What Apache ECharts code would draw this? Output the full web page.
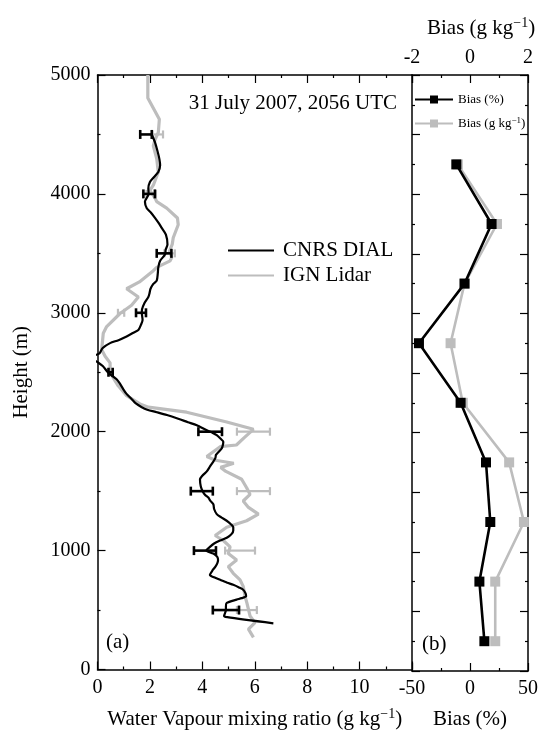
<!DOCTYPE html>
<html>
<head>
<meta charset="utf-8">
<script src="https://cdn.jsdelivr.net/npm/echarts@6/dist/echarts.min.js"></script>
<style>
  html, body { margin: 0; padding: 0; background: #fff; }
  #chart { width: 541px; height: 735px; }
</style>
</head>
<body>
<div id="chart"></div>
<script>
// CNRS DIAL water vapour mixing ratio profile (g/kg) vs height (m)
const dialHeights = [4500, 4430, 4350, 4295, 4240, 4185, 4140, 4100, 4045, 4000, 3935, 3880, 3840, 3797, 3750,
  3714, 3658, 3575, 3530, 3492, 3437, 3382, 3330, 3271, 3243, 3200, 3160, 3133, 3077, 3030, 3000, 2940, 2900,
  2856, 2830, 2801, 2770, 2745, 2704, 2657, 2640, 2600, 2585, 2552, 2496, 2441, 2413, 2358, 2320, 2275, 2240,
  2206, 2185, 2164, 2140, 2109, 2080, 2054, 2012, 1990, 1971, 1940, 1915, 1885, 1860, 1830, 1805, 1780, 1749,
  1710, 1666, 1630, 1598, 1542, 1500, 1470, 1446, 1420, 1390, 1350, 1307, 1280, 1251, 1220, 1197, 1170, 1141,
  1110, 1085, 1060, 1031, 1000, 975, 948, 920, 892, 865, 837, 795, 775, 754, 730, 712, 690, 671, 640, 616, 600,
  588, 560, 530, 500, 477, 450, 440, 388];
const dialValues = [2.07, 2.2, 2.3, 2.36, 2.39, 2.32, 2.15, 2.0, 1.94, 1.95, 1.81, 1.88, 2.05, 2.2, 2.35,
  2.45, 2.61, 2.67, 2.6, 2.58, 2.39, 2.32, 2.3, 2.26, 2.13, 2.02, 1.98, 1.94, 1.78, 1.7, 1.69, 1.72, 1.66,
  1.56, 1.35, 1.11, 0.8, 0.48, 0.2, 0.07, -0.1, -0.1, 0.0, 0.2, 0.41, 0.73, 0.83, 0.98, 1.1, 1.3, 1.45,
  1.69, 1.9, 2.26, 2.65, 3.08, 3.45, 3.79, 4.17, 4.4, 4.55, 4.7, 4.8, 4.78, 4.74, 4.62, 4.52, 4.5, 4.42,
  4.3, 4.17, 4.0, 3.91, 3.94, 4.01, 4.1, 4.23, 4.3, 4.42, 4.45, 4.55, 4.72, 4.93, 5.1, 5.18, 5.18, 5.12,
  4.95, 4.68, 4.45, 4.29, 4.15, 4.42, 4.57, 4.6, 4.57, 4.5, 4.4, 4.29, 4.45, 4.68, 4.95, 5.18, 5.4, 5.56, 5.65, 5.67, 5.5,
  5.31, 4.93, 4.9, 4.9, 4.87, 4.83, 4.95, 6.71];

// IGN Lidar profile
const ignHeights = [5000, 4807, 4627, 4516, 4460, 4405, 4295, 4184, 4073, 4030, 3963, 3935, 3880, 3797, 3741,
  3631, 3575, 3520, 3465, 3437, 3382, 3354, 3260, 3202, 3133, 3064, 2994, 2884, 2828, 2690, 2635, 2579, 2496,
  2386, 2303, 2234, 2206, 2164, 2081, 2020, 1950, 1888, 1874, 1791, 1760, 1735, 1700, 1666, 1600, 1529, 1473,
  1417, 1363, 1307, 1251, 1197, 1127, 1085, 1031, 975, 920, 865, 809, 754, 699, 616, 560, 450, 394, 339, 270];
const ignValues = [1.92, 1.92, 2.36, 2.32, 2.2, 2.13, 2.26, 2.32, 2.13, 2.0, 2.2, 2.26, 2.64, 3.05, 3.08,
  2.89, 2.85, 2.75, 2.83, 2.77, 2.26, 2.13, 1.6, 1.11, 1.56, 1.3, 0.86, 0.35, 0.22, 0.16, 0.29, 0.48, 0.48,
  0.79, 1.11, 1.62, 1.94, 3.4, 4.93, 5.95, 5.6, 5.3, 4.68, 4.17, 4.5, 5.2, 4.7, 4.9, 5.5, 5.69, 5.82,
  5.56, 5.76, 6.14, 5.69, 4.93, 4.49, 4.8, 5.06, 4.99, 5.31, 4.99, 5.18, 5.44, 5.56, 5.63, 5.7, 5.82, 6.01, 5.76, 5.95];

// Uncertainty bars: height, centre value, half-width (g/kg)
const errHeights = [4500, 4000, 3500, 3000, 2500, 2000, 1500, 1000, 500];
const dialErrCentre = [1.85, 1.97, 2.54, 1.66, 0.5, 4.3, 3.98, 4.1, 4.9];
const dialErrHalf = [0.22, 0.22, 0.28, 0.19, 0.08, 0.45, 0.42, 0.42, 0.5];
const ignErrCentre = [2.3, 2.05, 2.75, 0.9, 0.5, 5.95, 5.95, 5.44, 5.7];
const ignErrHalf = [0.2, 0.18, 0.2, 0.12, 0.08, 0.63, 0.63, 0.57, 0.38];

// Layer bias
const biasHeights = [4250, 3750, 3250, 2750, 2250, 1750, 1250, 750, 250];
const biasPercent = [-11.8, 18.6, -4.7, -44, -8.1, 13.8, 17.5, 8.1, 12.4];
const biasGkg = [-0.42, 0.93, -0.19, -0.67, -0.25, 1.35, 1.86, 0.87, 0.87];

// Axis ticks
const mixTicks = [0, 2, 4, 6, 8, 10];
const heightTicks = [0, 1000, 2000, 3000, 4000, 5000];
const biasPctTicks = [-50, 0, 50];
const biasGkgTicks = [-2, 0, 2];

const FONT = 'Liberation Serif';
const BLACK = '#000000';
const GREY = '#bdbdbd';

const pair = (xs, ys) => xs.map((x, i) => [x, ys[i]]);
const errData = (c, half) => errHeights.map((h, i) => [c[i], h, half[i]]);

function errorBar(color, width, capH) {
  return function (params, api) {
    const c = api.value(0), h = api.value(1), half = api.value(2);
    const p1 = api.coord([c - half, h]);
    const p2 = api.coord([c + half, h]);
    const st = { stroke: color, lineWidth: width };
    return {
      type: 'group',
      children: [
        { type: 'line', shape: { x1: p1[0], y1: p1[1], x2: p2[0], y2: p2[1] }, style: st },
        { type: 'line', shape: { x1: p1[0], y1: p1[1] - capH, x2: p1[0], y2: p1[1] + capH }, style: st },
        { type: 'line', shape: { x1: p2[0], y1: p2[1] - capH, x2: p2[0], y2: p2[1] + capH }, style: st }
      ]
    };
  };
}

const axisLineStyle = { color: BLACK, width: 1.5 };
const tickStyle = { color: BLACK, width: 1.2 };

function frameAxis(extra) {
  return Object.assign({
    type: 'value',
    splitLine: { show: false },
    axisLine: { show: true, onZero: false, lineStyle: axisLineStyle },
    axisTick: { show: true, inside: true, length: 8, lineStyle: tickStyle },
    minorTick: { show: true, splitNumber: 2, length: 3, lineStyle: tickStyle },
    axisLabel: { show: false }
  }, extra);
}

const labelStyle = { fontFamily: FONT, fontSize: 20, color: BLACK };
const nameStyle = { fontFamily: FONT, fontSize: 21, color: BLACK };

const option = {
  backgroundColor: '#ffffff',
  animation: false,
  textStyle: { fontFamily: FONT },
  grid: [
    { left: 97.5, top: 75, width: 314.5, height: 602.5 },
    { left: 412, top: 75, width: 117, height: 602.5 }
  ],
  xAxis: [
    frameAxis({ gridIndex: 0, position: 'bottom', min: 0, max: 12, interval: 2,
      axisLabel: Object.assign({ show: true, margin: 8,
        formatter: v => (mixTicks.indexOf(v) >= 0 ? String(v) : '') }, labelStyle),
      name: 'Water Vapour mixing ratio (g kg{sup|−1})', nameLocation: 'middle', nameGap: 38,
      nameTextStyle: Object.assign({ rich: { sup: { fontFamily: FONT, fontSize: 14, verticalAlign: 'bottom', padding: [0, 0, 10, 0], color: BLACK } } }, nameStyle) }),
    frameAxis({ gridIndex: 0, position: 'top', min: 0, max: 12, interval: 2 }),
    frameAxis({ gridIndex: 1, position: 'bottom', min: -50, max: 50, interval: 50,
      axisLabel: Object.assign({ show: true, margin: 8,
        formatter: v => (biasPctTicks.indexOf(v) >= 0 ? String(v) : '') }, labelStyle),
      name: 'Bias (%)', nameLocation: 'middle', nameGap: 38, nameTextStyle: nameStyle }),
    frameAxis({ gridIndex: 1, position: 'top', min: -2, max: 2, interval: 2,
      axisLabel: Object.assign({ show: true, margin: 7,
        formatter: v => (biasGkgTicks.indexOf(v) >= 0 ? String(v) : '') }, labelStyle) })
  ],
  yAxis: [
    frameAxis({ gridIndex: 0, position: 'left', min: 0, max: 5000, interval: 1000,
      axisLabel: Object.assign({ show: true, margin: 7,
        formatter: v => (heightTicks.indexOf(v) >= 0 ? String(v) : '') }, labelStyle),
      name: 'Height (m)', nameLocation: 'middle', nameGap: 66, nameRotate: 90, nameTextStyle: nameStyle }),
    frameAxis({ gridIndex: 1, position: 'left', min: 0, max: 5000, interval: 500 }),
    frameAxis({ gridIndex: 1, position: 'right', min: 0, max: 5000, interval: 500 })
  ],
  legend: [
    {
      data: ['CNRS DIAL', 'IGN Lidar'],
      orient: 'vertical', left: 227, top: 240, padding: 0,
      itemWidth: 46, itemHeight: 14, itemGap: 4,
      selectedMode: false,
      itemStyle: { opacity: 0 },
      textStyle: { fontFamily: FONT, fontSize: 21, color: BLACK, padding: [0, 0, 0, 4] }
    },
    {
      data: ['Bias (%)', 'Bias (g kg-1)'],
      orient: 'vertical', left: 414, top: 93, padding: 0,
      itemWidth: 38, itemHeight: 10, itemGap: 10,
      selectedMode: false,
      formatter: n => (n === 'Bias (g kg-1)' ? 'Bias (g kg{sup|−1})' : n),
      textStyle: { fontFamily: FONT, fontSize: 13, color: BLACK,
        rich: { sup: { fontFamily: FONT, fontSize: 9, verticalAlign: 'bottom', padding: [0, 0, 6, 0], color: BLACK } } }
    }
  ],
  graphic: [
    { type: 'text', right: 541 - 397, top: 93, style: { text: '31 July 2007, 2056 UTC', font: '21px "Liberation Serif"', fill: BLACK } },
    { type: 'text', left: 106, top: 632, style: { text: '(a)', font: '21px "Liberation Serif"', fill: BLACK } },
    { type: 'text', left: 422, top: 634, style: { text: '(b)', font: '21px "Liberation Serif"', fill: BLACK } },
    { type: 'text', left: 427, top: 16, style: {
        text: 'Bias (g kg{sup|−1})', font: '21px "Liberation Serif"', fill: BLACK,
        rich: { sup: { fontFamily: FONT, fontSize: 14, verticalAlign: 'bottom', padding: [0, 0, 10, 0], fill: BLACK } } } }
  ],
  series: [
    {
      name: 'IGN Lidar', type: 'line', xAxisIndex: 0, yAxisIndex: 0, z: 2,
      data: pair(ignValues, ignHeights), symbol: 'none', clip: true,
      lineStyle: { color: GREY, width: 3.2 }, itemStyle: { color: GREY }
    },
    {
      name: 'IGN error', type: 'custom', xAxisIndex: 0, yAxisIndex: 0, z: 3,
      data: errData(ignErrCentre, ignErrHalf), renderItem: errorBar(GREY, 2.2, 4)
    },
    {
      name: 'CNRS DIAL', type: 'line', xAxisIndex: 0, yAxisIndex: 0, z: 4,
      data: pair(dialValues, dialHeights), symbol: 'none', clip: true, smooth: 0.25,
      lineStyle: { color: BLACK, width: 2.2 }, itemStyle: { color: BLACK }
    },
    {
      name: 'DIAL error', type: 'custom', xAxisIndex: 0, yAxisIndex: 0, z: 5,
      data: errData(dialErrCentre, dialErrHalf), renderItem: errorBar(BLACK, 2.6, 4.5)
    },
    {
      name: 'Bias (g kg-1)', type: 'line', xAxisIndex: 3, yAxisIndex: 1, z: 6,
      data: pair(biasGkg, biasHeights), symbol: 'rect', symbolSize: 10, showSymbol: true,
      lineStyle: { color: GREY, width: 2.6 }, itemStyle: { color: GREY }
    },
    {
      name: 'Bias (%)', type: 'line', xAxisIndex: 2, yAxisIndex: 1, z: 7,
      data: pair(biasPercent, biasHeights), symbol: 'rect', symbolSize: 10, showSymbol: true,
      lineStyle: { color: BLACK, width: 2.6 }, itemStyle: { color: BLACK }
    }
  ]
};

const chart = echarts.init(document.getElementById('chart'), null, { renderer: 'canvas' });
chart.setOption(option);
</script>
</body>
</html>
